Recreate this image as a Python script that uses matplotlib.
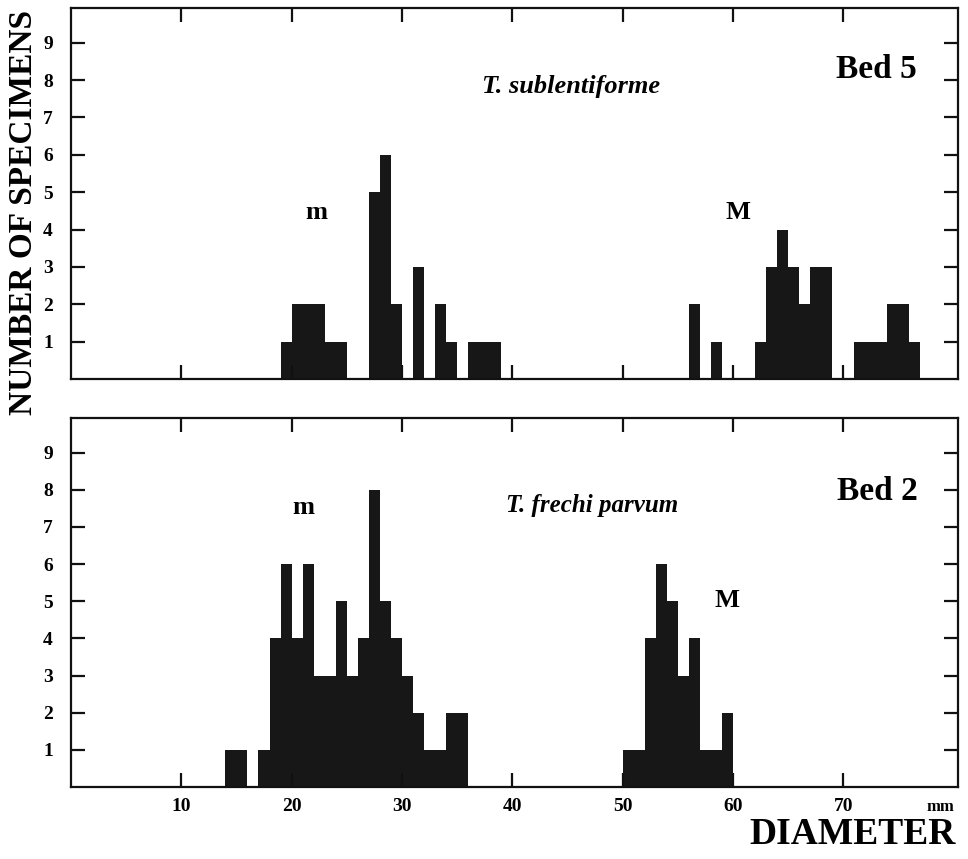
import matplotlib
matplotlib.use("Agg")
import matplotlib.pyplot as plt
import matplotlib.ticker as mticker

# diameter bins (mm, 1 mm wide) and number of specimens
bed5_bins = [19, 20, 21, 22, 23, 24, 27, 28, 29, 31, 33, 34, 36, 37, 38,
             56, 58, 62, 63, 64, 65, 66, 67, 68, 71, 72, 73, 74, 75, 76]
bed5_counts = [1, 2, 2, 2, 1, 1, 5, 6, 2, 3, 2, 1, 1, 1, 1,
               2, 1, 1, 3, 4, 3, 2, 3, 3, 1, 1, 1, 2, 2, 1]

bed2_bins = [14, 15, 17, 18, 19, 20, 21, 22, 23, 24, 25, 26, 27, 28, 29,
             30, 31, 32, 33, 34, 35,
             50, 51, 52, 53, 54, 55, 56, 57, 58, 59]
bed2_counts = [1, 1, 1, 4, 6, 4, 6, 3, 3, 5, 3, 4, 8, 5, 4,
               3, 2, 1, 1, 2, 2,
               1, 1, 4, 6, 5, 3, 4, 1, 1, 2]

x_ticks = [10, 20, 30, 40, 50, 60, 70]
y_ticks = [1, 2, 3, 4, 5, 6, 7, 8, 9]

plt.rcParams['font.family'] = ['Liberation Serif', 'DejaVu Serif']
plt.rcParams['font.weight'] = 'bold'

fig = plt.figure(figsize=(9.68, 8.59), dpi=100)
ax1 = fig.add_axes([0.0733, 0.5588, 0.9163, 0.4319])
ax2 = fig.add_axes([0.0733, 0.0838, 0.9163, 0.4296])

bar_color = '#171717'


def style(ax, show_xlabels):
    ax.set_xlim(0, 80.4)
    ax.set_ylim(0, 9.93)
    for s in ax.spines.values():
        s.set_linewidth(1.6)
        s.set_color('#111111')
    ax.xaxis.set_major_locator(mticker.FixedLocator(x_ticks))
    ax.yaxis.set_major_locator(mticker.FixedLocator(y_ticks))
    ax.tick_params(direction='in', length=10, width=1.6, color='#111111',
                   top=True, right=True, labelsize=14)
    ax.tick_params(axis='y', pad=13)
    ax.tick_params(axis='x', pad=8)
    if not show_xlabels:
        ax.tick_params(axis='x', labelbottom=False)
    for lab in ax.get_xticklabels() + ax.get_yticklabels():
        lab.set_fontweight('bold')


ax1.bar(bed5_bins, bed5_counts, width=1, align='edge', color=bar_color, linewidth=0)
ax2.bar(bed2_bins, bed2_counts, width=1, align='edge', color=bar_color, linewidth=0)
style(ax1, False)
style(ax2, True)

# annotations, top panel
ax1.text(45.3, 7.83, 'T. sublentiforme', style='italic', fontweight='bold',
         fontsize=19, ha='center', va='center')
ax1.text(73.0, 8.28, 'Bed 5', fontweight='bold', fontsize=24, ha='center', va='center')
ax1.text(22.2, 4.45, 'm', fontweight='bold', fontsize=19, ha='center', va='center')
ax1.text(60.5, 4.45, 'M', fontweight='bold', fontsize=19, ha='center', va='center')

# annotations, bottom panel
ax2.text(47.2, 7.58, 'T. frechi parvum', style='italic', fontweight='bold',
         fontsize=18, ha='center', va='center')
ax2.text(73.1, 7.96, 'Bed 2', fontweight='bold', fontsize=24, ha='center', va='center')
ax2.text(21.1, 7.52, 'm', fontweight='bold', fontsize=19, ha='center', va='center')
ax2.text(59.5, 5.03, 'M', fontweight='bold', fontsize=19, ha='center', va='center')
ax2.text(78.8, -0.55, 'mm', fontweight='bold', fontsize=12, ha='center', va='center',
         clip_on=False)

fig.text(0.024, 0.753, 'NUMBER OF SPECIMENS', rotation=90, fontweight='bold',
         fontsize=24, ha='center', va='center')
fig.text(0.881, 0.008, 'DIAMETER', fontweight='bold', fontsize=27,
         ha='center', va='bottom')

fig.savefig('out.png', dpi=100)
